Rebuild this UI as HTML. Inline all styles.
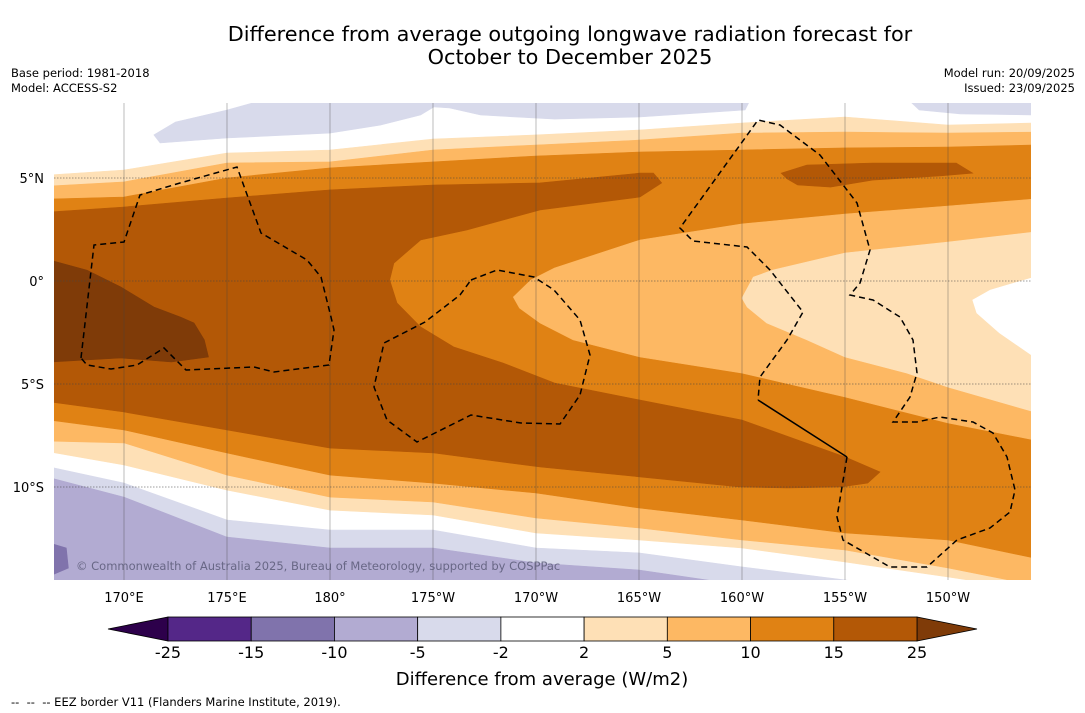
<!DOCTYPE html>
<html><head><meta charset="utf-8">
<style>
body{margin:0;background:#fff;width:1085px;height:713px;overflow:hidden;font-family:"Liberation Sans","DejaVu Sans",sans-serif;}
svg{position:absolute;left:0;top:0;}
</style></head><body>
<svg id="chart" width="1085" height="713" viewBox="0 0 1085 713" font-family="'DejaVu Sans','Liberation Sans',sans-serif">
  <text x="570" y="41" font-size="20.8" text-anchor="middle" fill="#000">Difference from average outgoing longwave radiation forecast for</text>
  <text x="570" y="64" font-size="20.8" text-anchor="middle" fill="#000">October to December 2025</text>
  <text x="11" y="77" font-size="11.5">Base period: 1981-2018</text>
  <text x="11" y="92" font-size="11.5">Model: ACCESS-S2</text>
  <text x="1075" y="77" font-size="11.5" text-anchor="end">Model run: 20/09/2025</text>
  <text x="1075" y="92" font-size="11.5" text-anchor="end">Issued: 23/09/2025</text>
  <defs><clipPath id="mapclip"><rect x="54" y="103" width="977" height="477"/></clipPath></defs>
  <g id="map" clip-path="url(#mapclip)">
    <rect x="54" y="103" width="977" height="477" fill="#fff"/>
    <g id="fills"></g>
    <g id="grid"></g>
    <g id="eez" fill="none" stroke="#000" stroke-width="1.5" stroke-dasharray="6,4">
      <polyline points="81,358 94,245 124,242 140,195 180,183 237,167 261,233 307,260 321,277 331,317 334,330 329,365 274,372 254,367 186,370 164,348 137,365 111,369 87,365 81,358"/>
      <polyline points="471,280 497,270 534,277 554,290 580,320 590,355 580,395 560,424 521,423 471,415 417,442 387,420 374,387 384,343 425,322 460,295 471,280"/>
      <polyline points="847,457 837,517 843,540 890,567 927,567 957,540 990,528 1010,512 1015,490 1007,457 993,433 973,422 940,417 917,422 893,422 910,397 917,373 913,340 900,317 873,300 850,295 860,283 870,250 857,203 820,155 780,125 758,120 680,228 693,241 747,247 770,270 803,312 787,340 760,377 758,400"/>
      <polyline stroke-dasharray="none" points="758,400 847,457"/>
    </g>
    <text x="76" y="570" font-size="11.5" fill="#5a5a78" fill-opacity="0.85">© Commonwealth of Australia 2025, Bureau of Meteorology, supported by COSPPac</text>
  </g>
  <g id="ticks"></g>
  <g id="colorbar"></g>
  <text x="542" y="685" font-size="18" text-anchor="middle">Difference from average (W/m2)</text>
  <text x="11" y="706" font-size="11.5" xml:space="preserve">--  --  -- EEZ border V11 (Flanders Marine Institute, 2019).</text>
</svg>
<script>
// ---- data ----
const levels = [-25,-15,-10,-5,-2,2,5,10,15,25];
const levelColors = ['#2d004b','#542788','#8073ac','#b2abd2','#d8daeb','#ffffff','#fee0b6','#fdb863','#e08214','#b35806','#7f3b08'];
const lonTicks = [170,175,180,185,190,195,200,205,210];
const lonTickLabels = ['170°E','175°E','180°','175°W','170°W','165°W','160°W','155°W','150°W'];
const latTicks = [5,0,-5,-10];
const latTickLabels = ['5°N','0°','5°S','10°S'];
// contour lines: latitude at sample longitudes (degrees E, 180+ = west)
const sampleLons = [166.4,170,175,180,185,190,195,200,205,210,214.2];
const north2  = [5.15,5.39,6.21,6.36,6.89,7.09,7.33,7.67,7.96,7.57,7.67];
const north5  = [4.61,4.81,5.73,5.78,6.36,6.60,6.84,7.18,7.23,7.18,7.23];
const north10 = [3.98,4.08,5.00,5.49,5.78,6.07,6.26,6.36,6.46,6.50,6.60];
const south10 = [-6.75,-7.23,-8.35,-9.42,-9.81,-10.29,-11.02,-11.60,-12.23,-12.57,-13.45];
const south5  = [-7.77,-7.86,-9.42,-10.49,-10.73,-11.50,-11.99,-12.57,-13.06,-13.93,-14.76];
const south2  = [-8.30,-8.93,-10.15,-11.12,-11.36,-12.23,-12.57,-12.96,-13.64,-14.37,-15.0];
const southM2 = [-9.03,-9.81,-11.60,-12.09,-12.09,-12.96,-13.20,-13.88,-14.51,-15.2,-15.5];
const southM5 = [-9.55,-10.49,-12.43,-12.96,-12.96,-13.69,-14.03,-14.76,-15.5,-15.5,-15.5];
// closed regions [lon,lat]
const region15 = [[166.4,3.35],[170,3.59],[175,4.03],[180,4.42],[185,4.66],[190.2,4.76],[195.05,5.24],[195.7,5.24],[196.1,4.76],[195.05,4.08],[190.2,3.45],[186.65,2.48],[184.4,1.99],[183.1,0.87],[182.9,0.05],[183.25,-1.07],[184.4,-2.23],[186.0,-3.20],[188.4,-3.98],[190.9,-4.95],[195.05,-5.78],[200,-6.75],[205,-8.54],[206.7,-9.27],[206.1,-9.81],[204.8,-10.0],[202.2,-10.05],[199.9,-10.0],[195.05,-9.51],[190.2,-9.03],[185.05,-8.35],[180,-8.11],[175,-7.23],[170,-6.36],[166.4,-5.87]];
const region15NE = [[201.9,5.24],[203.15,5.63],[206.35,5.73],[210.4,5.73],[211.2,5.24],[209.6,5.10],[206.35,4.90],[204.3,4.56],[202.7,4.66],[202.2,4.95]];
const region25 = [[166.4,1.02],[168.2,0.53],[169.85,-0.29],[171.45,-1.26],[172.75,-1.75],[173.4,-2.04],[173.9,-2.86],[174.1,-3.69],[172.3,-3.93],[169.85,-3.74],[166.4,-3.93]];
const hole5 = [[188.9,-0.78],[189.75,0.05],[190.9,0.63],[195.05,1.99],[200,2.77],[205,3.25],[210,3.64],[214.2,3.98],[214.2,-7.72],[210,-6.89],[205,-5.63],[200,-4.47],[195.05,-3.69],[191.8,-2.86],[190.2,-2.04],[189.2,-1.31]];
const hole2 = [[200,-0.83],[200.55,0.19],[201.5,0.53],[205,1.36],[210,1.89],[214.2,2.38],[214.2,-6.36],[210,-5.15],[208,-4.47],[205,-3.69],[203.15,-2.86],[201.2,-2.04],[200.25,-1.26]];
const holeWhite = [[214.2,0.19],[212.05,-0.44],[211.2,-0.92],[211.4,-1.55],[212.5,-2.52],[214.2,-3.69]];
const topLavWest = [[171.45,7.09],[172.5,7.72],[175,8.30],[178.25,9.2],[200.6,9.2],[200.15,8.30],[198,8.16],[195.05,7.96],[190.9,7.86],[187.3,8.06],[185.8,8.40],[185.05,8.45],[184.4,8.06],[182.45,7.57],[180,7.18],[175,6.94],[171.75,6.70]];
const topLavEast = [[207.65,9.2],[214.2,9.2],[214.2,8.06],[210.6,8.11],[208.6,8.30]];
const purpleSW = [[166.4,-12.72],[167.2,-12.96],[167.3,-13.93],[166.4,-14.32]];

// ---- axes ----
const X = lon => 124 + (lon - 170) * 20.6;
const Y = lat => 281 - lat * 20.6;
const NS = 'http://www.w3.org/2000/svg';
function mk(tag, attrs, parent){const e=document.createElementNS(NS,tag);for(const k in attrs)e.setAttribute(k,attrs[k]);parent.appendChild(e);return e;}
function colorFor(v){let i=0;while(i<levels.length&&v>=levels[i])i++;return levelColors[i];}
const fills = document.getElementById('fills');
function polyStr(pts){return pts.map(p=>X(p[0]).toFixed(1)+','+Y(p[1]).toFixed(1)).join(' ');}
function band(top, bottom, color, name){
  const pts=[];
  sampleLons.forEach((l,i)=>pts.push([l, top===null?9.5:top[i]]));
  for(let i=sampleLons.length-1;i>=0;i--)pts.push([sampleLons[i], bottom===null?-16:bottom[i]]);
  const e=mk('polygon',{points:polyStr(pts),fill:color},fills);
  
  
}
function region(pts,color,name){
  const e=mk('polygon',{points:polyStr(pts),fill:color},fills);
  
  
}
band(southM2,null,colorFor(-3),'band-minus5-to-minus2');
band(southM5,null,colorFor(-6),'band-minus10-to-minus5');
band(north2,south2,colorFor(3),'band-2-to-5');
band(north5,south5,colorFor(6),'band-5-to-10');
band(north10,south10,colorFor(11),'band-10-to-15');
region(region15,colorFor(16),'region-15-to-25');
region(region15NE,colorFor(16),'region-15-to-25-northeast');
region(region25,colorFor(30),'region-above-25');
region(hole5,colorFor(6),'region-5-to-10-east');
region(hole2,colorFor(3),'region-2-to-5-east');
region(holeWhite,colorFor(0),'region-near-zero-east');
region(topLavWest,colorFor(-3),'region-minus5-to-minus2-north-west');
region(topLavEast,colorFor(-3),'region-minus5-to-minus2-north-east');
region(purpleSW,colorFor(-12),'region-minus15-to-minus10-southwest');
fills.querySelectorAll('polygon').forEach(p=>{p.setAttribute('stroke',p.getAttribute('fill'));p.setAttribute('stroke-width','0.6');});

// grid + ticks
const grid=document.getElementById('grid'), ticks=document.getElementById('ticks');
lonTicks.forEach((l,i)=>{
  const g=mk('line',{x1:X(l),x2:X(l),y1:103,y2:580,stroke:'#444','stroke-width':0.6,'stroke-opacity':0.6},grid);
  
  
  const t=mk('text',{x:X(l),y:602,'font-size':13,'text-anchor':'middle'},ticks);
  t.textContent=lonTickLabels[i];
  
  
});
latTicks.forEach((l,i)=>{
  const g=mk('line',{x1:54,x2:1031,y1:Y(l),y2:Y(l),stroke:'#444','stroke-width':0.7,'stroke-dasharray':'1.5,1.5','stroke-opacity':0.7},grid);
  
  
  const t=mk('text',{x:44,y:Y(l)+5,'font-size':13,'text-anchor':'end'},ticks);
  t.textContent=latTickLabels[i];
  
  
});

// colorbar
const cb=document.getElementById('colorbar');
const cbX0=168, cbX1=917, cbY=617, cbH=24, bw=(cbX1-cbX0)/(levels.length-1);
const tl=mk('polygon',{points:`108,${cbY+cbH/2} ${cbX0},${cbY} ${cbX0},${cbY+cbH}`,fill:levelColors[0],stroke:'#000','stroke-width':0.8},cb);


const tr=mk('polygon',{points:`977,${cbY+cbH/2} ${cbX1},${cbY} ${cbX1},${cbY+cbH}`,fill:levelColors[levelColors.length-1],stroke:'#000','stroke-width':0.8},cb);


for(let i=0;i<levels.length-1;i++){
  const r=mk('rect',{x:cbX0+i*bw,y:cbY,width:bw,height:cbH,fill:levelColors[i+1],stroke:'#000','stroke-width':0.8},cb);
  
  
}
levels.forEach((v,i)=>{
  const t=mk('text',{x:cbX0+i*bw,y:658,'font-size':16,'text-anchor':'middle'},cb);
  t.textContent=String(v);
  
  
});
</script>
</body></html>
